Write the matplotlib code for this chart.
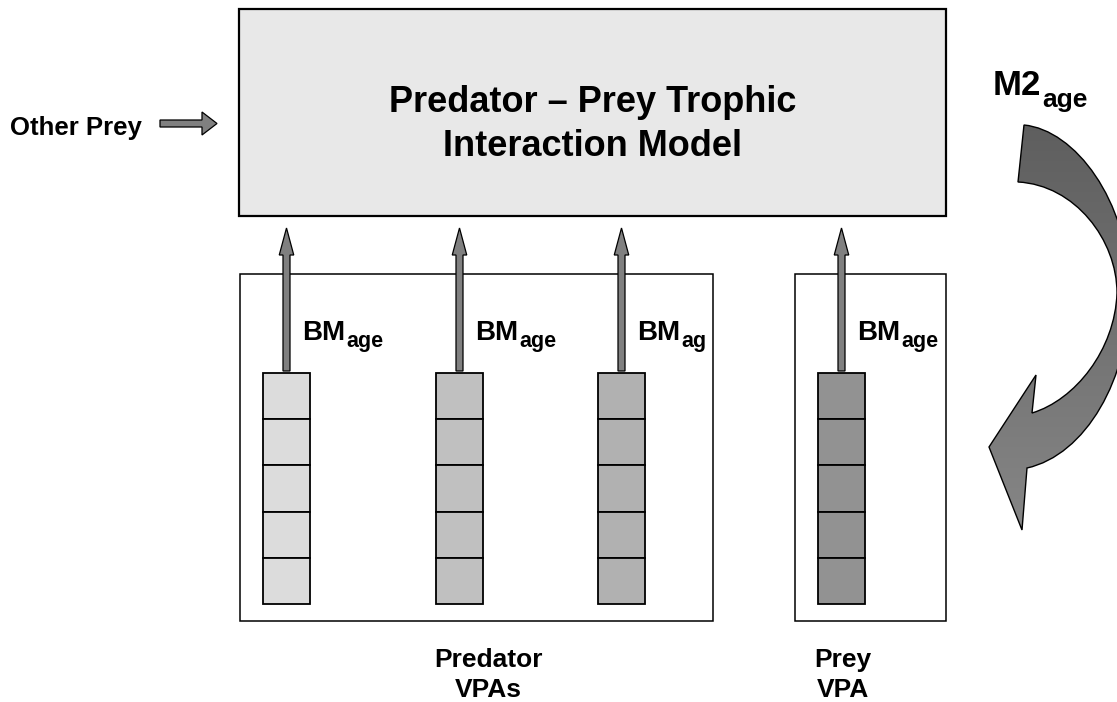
import numpy as np
import matplotlib
matplotlib.use('Agg')
import matplotlib.pyplot as plt
from matplotlib.patches import Rectangle, FancyArrow, PathPatch
from matplotlib.path import Path
from matplotlib.colors import LinearSegmentedColormap

plt.rcParams['font.family'] = ['Liberation Sans', 'DejaVu Sans']

# ---------------- content ----------------
model_title = ['Predator \u2013 Prey Trophic', 'Interaction Model']
input_label = 'Other Prey'
mortality_main, mortality_sub = 'M2', 'age'
column_colors = ['#dcdcdc', '#c0c0c0', '#b1b1b1', '#929292']
column_main = 'BM'
column_sub = ['age', 'age', 'ag', 'age']
n_age_classes = 5
group_labels = [['Predator', 'VPAs'], ['Prey', 'VPA']]

# ---------------- layout (pixels) ----------------
W, H = 1117, 702
fig = plt.figure(figsize=(W / 100, H / 100), dpi=100)
ax = fig.add_axes([0, 0, 1, 1])
ax.set_xlim(0, W)
ax.set_ylim(H, 0)
ax.axis('off')

FONT_W = 'bold'
arrow_grey = '#808080'

# model box
ax.add_patch(Rectangle((239, 8.5), 707, 207.5, facecolor='#e8e8e8',
                       edgecolor='black', lw=1.6, zorder=1))
for txt, yb in zip(model_title, [112, 156]):
    ax.text(592.5, yb, txt, ha='center', va='baseline', fontsize=26,
            fontweight=FONT_W, zorder=5)

# group boxes
ax.add_patch(Rectangle((240, 274), 473, 347, facecolor='white',
                       edgecolor='black', lw=1.1, zorder=1))
ax.add_patch(Rectangle((795, 274), 151, 347, facecolor='white',
                       edgecolor='black', lw=1.1, zorder=1))

# columns
col_left = [263, 436, 598, 818]
col_w = 47
col_top, col_bot = 373, 604
cell_h = (col_bot - col_top) / n_age_classes
renderer = fig.canvas.get_renderer()
for left, color, sub in zip(col_left, column_colors, column_sub):
    for k in range(n_age_classes):
        ax.add_patch(Rectangle((left, col_top + k * cell_h), col_w, cell_h,
                               facecolor=color, edgecolor='black', lw=1.3,
                               zorder=2))
    cx = left + col_w / 2
    ax.add_patch(FancyArrow(cx, col_top - 2, 0, -(col_top - 2 - 228),
                            width=7, head_width=14.5, head_length=27,
                            length_includes_head=True, facecolor=arrow_grey,
                            edgecolor='black', lw=0.9, zorder=3))
    t = ax.text(cx + 16, 340, column_main, ha='left', va='baseline',
                fontsize=20, fontweight=FONT_W, zorder=5)
    bb = t.get_window_extent(renderer).transformed(ax.transData.inverted())
    ax.text(bb.x1 + 0.5, 347, sub, ha='left', va='baseline', fontsize=15.5,
            fontweight=FONT_W, zorder=5)

# group labels
for (l1, l2), gx in zip(group_labels, [488, 843]):
    ax.text(gx, 667, l1, ha='center', va='baseline', fontsize=19,
            fontweight=FONT_W)
    ax.text(gx, 697, l2, ha='center', va='baseline', fontsize=19,
            fontweight=FONT_W)

# other prey input
ax.text(10, 135, input_label, ha='left', va='baseline', fontsize=18.5,
        fontweight=FONT_W)
ax.add_patch(FancyArrow(160, 123.5, 57, 0, width=7, head_width=23,
                        head_length=15, length_includes_head=True,
                        facecolor=arrow_grey, edgecolor='black', lw=0.9))

# M2 label
t = ax.text(993, 95, mortality_main, ha='left', va='baseline', fontsize=25,
            fontweight=FONT_W)
bb = t.get_window_extent(renderer).transformed(ax.transData.inverted())
ax.text(bb.x1 + 1, 107, mortality_sub, ha='left', va='baseline',
        fontsize=19, fontweight=FONT_W)

# curved M2 arrow
verts = [
    (1024, 125),
    (1075, 130), (1128, 200), (1130, 290),
    (1130, 380), (1085, 455), (1027, 468),
    (1022, 530),
    (989, 447),
    (1036, 375),
    (1032, 413),
    (1075, 400), (1115, 350), (1117, 293),
    (1117, 240), (1075, 185), (1018, 182),
    (1024, 125),
]
codes = ([Path.MOVETO] + [Path.CURVE4] * 6 + [Path.LINETO] * 4 +
         [Path.CURVE4] * 6 + [Path.CLOSEPOLY])
curve_path = Path(verts, codes)
clip_patch = PathPatch(curve_path, facecolor='none', edgecolor='none')
ax.add_patch(clip_patch)
cmap = LinearSegmentedColormap.from_list('g', ['#5e5e5e', '#878787'])
grad = np.linspace(0, 1, 256).reshape(-1, 1)
im = ax.imshow(grad, cmap=cmap, extent=(980, 1140, 540, 120),
               origin='upper', aspect='auto', zorder=2)
im.set_clip_path(clip_patch)
ax.add_patch(PathPatch(curve_path, facecolor='none', edgecolor='black',
                       lw=1.0, zorder=3))

ax.set_xlim(0, W)
ax.set_ylim(H, 0)
fig.savefig('out.png', dpi=100, facecolor='white')
